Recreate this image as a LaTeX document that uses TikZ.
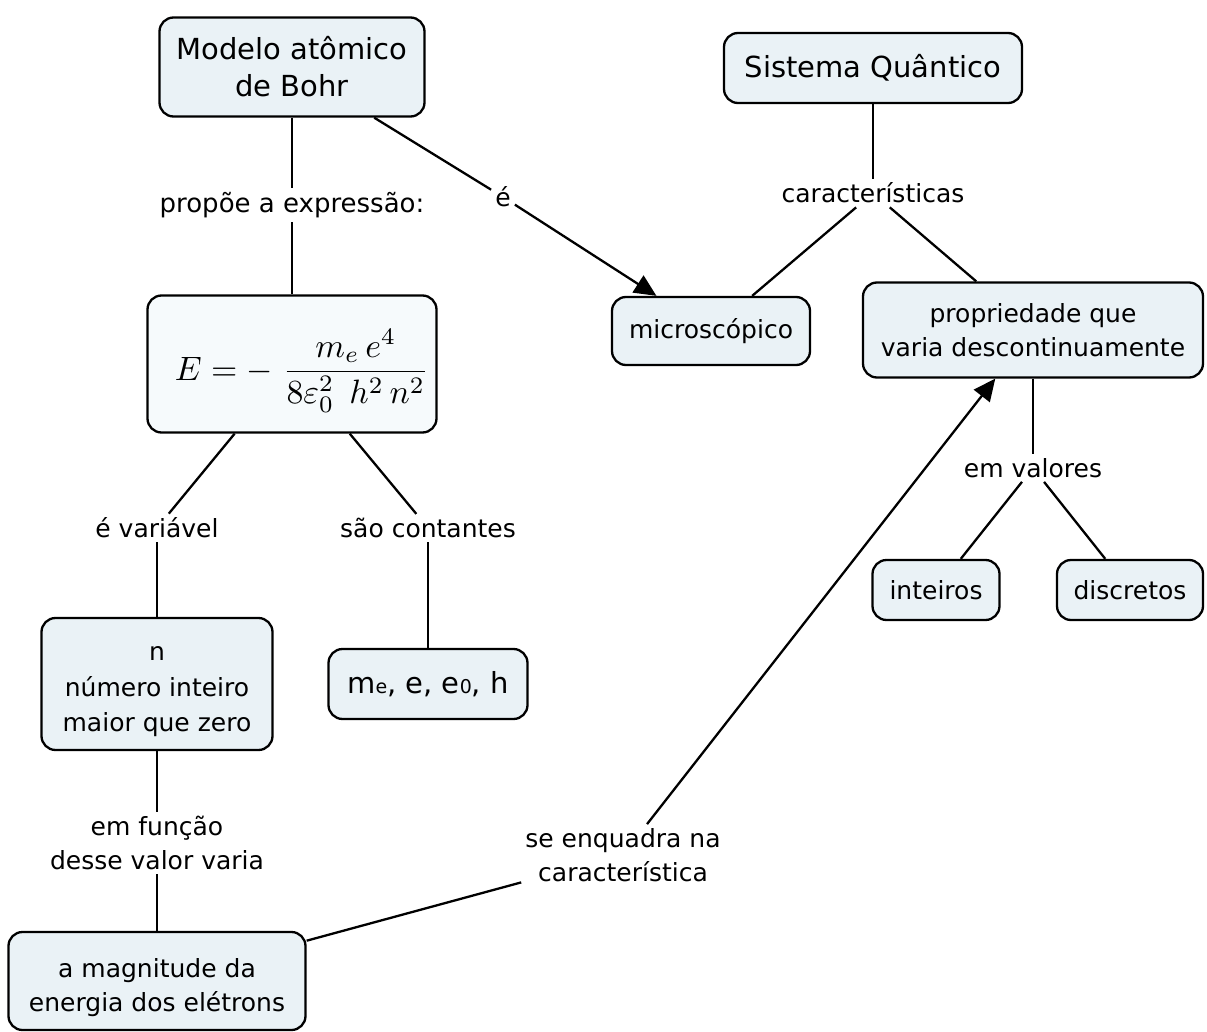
\documentclass[tikz,border=0pt]{standalone}
\usepackage{amsmath}
\usepackage{graphicx}
\usepackage{fontspec}
\setmainfont{DejaVu Sans}
\usetikzlibrary{arrows.meta}
\definecolor{boxfill}{RGB}{234,242,246}
\definecolor{formulafill}{RGB}{246,250,252}
% a centred block of lines, drawn a little lower than its box
\newcommand{\lowblock}[2]{\raisebox{-#1}[\height][\depth]{\begin{tabular}{@{}c@{}}#2\end{tabular}}}
\begin{document}
\begin{tikzpicture}[x=1pt,y=-1pt,
  concept/.style={draw=black, line width=2.3pt, rounded corners=14pt, fill=boxfill,
    align=center, inner sep=0pt, font=\fontsize{25}{34}\selectfont},
  title/.style={concept, font=\fontsize{29}{37}\selectfont},
  link/.style={align=center, inner sep=4pt, font=\fontsize{25}{34}\selectfont},
  conn/.style={line width=2.3pt, draw=black},
  arr/.style={conn, -{Triangle[length=22pt,width=20pt]}}]
\useasboundingbox (0,0) rectangle (1207,1032);

% concepts
\node[title, minimum width=265pt, minimum height=99pt] (bohr) at (292,67) {Modelo atômico\\de Bohr};
\node[title, minimum width=298pt, minimum height=70pt] (sq) at (873,68) {Sistema Quântico};
\node[concept, minimum width=289pt, minimum height=137pt, fill=formulafill,
      font=\fontsize{10}{12}\selectfont] (formula) at (292,364)
  {\raisebox{-7pt}[\height][\depth]{\hspace*{20pt}\scalebox{3.38}{$E = -\;\dfrac{m_e\,e^4}{8\varepsilon_0^2\;\,h^2\,n^2}$}}};
\node[concept, minimum width=198pt, minimum height=68pt] (micro) at (711,331) {microscópico};
\node[concept, minimum width=340pt, minimum height=95pt] (prop) at (1033,330)
  {\lowblock{3pt}{propriedade que\\varia descontinuamente}};
\node[concept, minimum width=127pt, minimum height=60pt] (inteiros) at (936,590) {inteiros};
\node[concept, minimum width=146pt, minimum height=60pt] (discretos) at (1130,590) {discretos};
\node[concept, minimum width=231pt, minimum height=132pt, font=\fontsize{25}{35.5}\selectfont] (num) at (157,684)
  {\lowblock{5pt}{n\\número inteiro\\maior que zero}};
\node[concept, minimum width=199pt, minimum height=70pt, font=\fontsize{29}{34}\selectfont] (const) at (428,684)
  {m{\fontsize{19}{24}\selectfont e}, e, e{\fontsize{19}{24}\selectfont 0}, h};
\node[concept, minimum width=297pt, minimum height=98pt] (mag) at (157,981)
  {\lowblock{7pt}{a magnitude da\\energia dos elétrons}};

% linking phrases
\node[link, font=\fontsize{26}{34}\selectfont] (lprop) at (292,205) {propõe a expressão:};
\node[link] (le) at (503,197) {é};
\node[link] (lcar) at (873,193) {características};
\node[link] (lvar) at (157,528) {é variável};
\node[link] (lconst) at (428,528) {são contantes};
\node[link] (lval) at (1033,468) {em valores};
\node[link] (lfunc) at (157,843) {em função\\desse valor varia};
\node[link] (lenq) at (623,855) {se enquadra na\\característica};

% connectors
\draw[conn] (bohr) -- (lprop);
\draw[conn] (lprop) -- (formula);
\draw[conn] (bohr) -- (le);
\draw[arr] (le) -- (micro);
\draw[conn] (sq) -- (lcar);
\draw[conn] (lcar) -- (micro);
\draw[conn] (lcar) -- (prop);
\draw[conn] (formula) -- (lvar);
\draw[conn] (lvar) -- (num);
\draw[conn] (formula) -- (lconst);
\draw[conn] (lconst) -- (const);
\draw[conn] (num) -- (lfunc);
\draw[conn] (lfunc) -- (mag);
\draw[conn] (mag) -- (lenq);
\draw[arr] (lenq) -- (prop);
\draw[conn] (prop) -- (lval);
\draw[conn] (lval) -- (inteiros);
\draw[conn] (lval) -- (discretos);
\end{tikzpicture}
\end{document}
